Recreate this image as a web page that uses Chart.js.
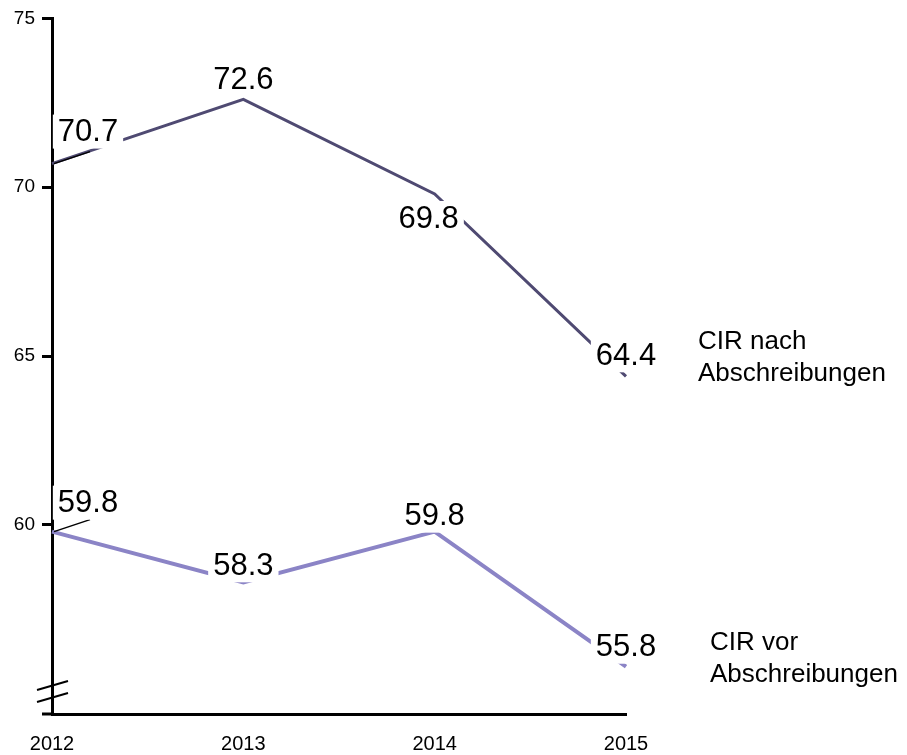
<!DOCTYPE html>
<html>
<head>
<meta charset="utf-8">
<script src="https://cdn.jsdelivr.net/npm/chart.js@4"></script>
<style>
  body { margin: 0; background: #fff; }
  #wrap { width: 907px; height: 755px; }
</style>
</head>
<body>
<div id="wrap"><canvas id="cirChart"></canvas></div>
<script>
// Data
const years = ['2012', '2013', '2014', '2015'];
const cirNach = [70.7, 72.6, 69.8, 64.4];
const cirVor = [59.8, 58.3, 59.8, 55.8];
const yTicks = [60, 65, 70, 75];
const seriesNames = [['CIR nach', 'Abschreibungen'], ['CIR vor', 'Abschreibungen']];

// Label placement (pixels relative to the point)
const labelOffsets = [
    [[36, -32], [0, -20], [-6, 24], [0, -21]],
    [[36, -29], [0, -17], [0, -16], [0, -20]]
];
const nameOffsets = [[72, -35], [84, -24]];

const ctx = document.getElementById('cirChart').getContext('2d');

// White-boxed value labels, series names, axis break
const decorPlugin = {
    id: 'decor',
    afterDatasetsDraw(chart) {
        const c = chart.ctx;
        const xs = chart.scales.x;
        const ys = chart.scales.y;
        c.save();

        chart.data.datasets.forEach((ds, di) => {
            const meta = chart.getDatasetMeta(di);
            meta.data.forEach((pt, i) => {
                const [dx, dy] = labelOffsets[di][i];
                const tx = pt.x + dx;
                const ty = pt.y + dy;
                const txt = ds.data[i].toFixed(1);
                c.font = '31px "Liberation Sans", Arial, sans-serif';
                const w = c.measureText(txt).width;

                // leader line for the first point
                if (i === 0) {
                    c.strokeStyle = '#000';
                    c.lineWidth = 1.5;
                    c.beginPath();
                    c.moveTo(pt.x + 2, pt.y);
                    c.lineTo(pt.x + 38, pt.y - 12);
                    c.stroke();
                }

                c.fillStyle = '#fff';
                c.fillRect(tx - w / 2 - 5, ty - 17, w + 10, 34);
                c.fillStyle = '#000';
                c.textAlign = 'center';
                c.textBaseline = 'middle';
                c.fillText(txt, tx, ty + 1);
            });

            // series name next to the last point
            const last = meta.data[meta.data.length - 1];
            const [nx, ny] = nameOffsets[di];
            c.font = '26px "Liberation Sans", Arial, sans-serif';
            c.fillStyle = '#000';
            c.textAlign = 'left';
            c.textBaseline = 'middle';
            seriesNames[di].forEach((line, li) => {
                c.fillText(line, last.x + nx, last.y + ny + li * 32);
            });
        });

        // x axis extends a little left of the y axis
        c.strokeStyle = '#000';
        c.lineWidth = 3;
        c.beginPath();
        c.moveTo(xs.left - 10, ys.bottom);
        c.lineTo(xs.left, ys.bottom);
        c.stroke();

        // axis break marks
        c.lineWidth = 2;
        const bx = xs.left;
        const by = ys.bottom - 21;
        [0, 12].forEach(off => {
            c.beginPath();
            c.moveTo(bx - 15, by - 3 + off);
            c.lineTo(bx + 16, by - 12 + off);
            c.stroke();
        });

        c.restore();
    }
};

new Chart(ctx, {
    type: 'line',
    data: {
        labels: years,
        datasets: [
            {
                label: 'CIR nach Abschreibungen',
                data: cirNach,
                borderColor: '#4f4a72',
                borderWidth: 3,
                pointRadius: 0,
                tension: 0
            },
            {
                label: 'CIR vor Abschreibungen',
                data: cirVor,
                borderColor: '#8b84c6',
                borderWidth: 4,
                pointRadius: 0,
                tension: 0
            }
        ]
    },
    options: {
        responsive: true,
        maintainAspectRatio: false,
        animation: false,
        layout: { padding: { top: 16, right: 281, left: 0, bottom: 0 } },
        scales: {
            x: {
                offset: false,
                grid: { display: false, drawTicks: false },
                border: { display: true, color: '#000', width: 3 },
                ticks: {
                    color: '#000',
                    padding: 18,
                    font: { family: '"Liberation Sans", Arial, sans-serif', size: 20 }
                },
                afterFit: (scale) => { scale.height = 41; }
            },
            y: {
                min: 54.4,
                max: 75,
                afterBuildTicks: (scale) => {
                    scale.ticks = yTicks.map(v => ({ value: v }));
                },
                grid: {
                    drawOnChartArea: false,
                    drawTicks: true,
                    tickLength: 10,
                    tickWidth: 3,
                    tickColor: '#000'
                },
                border: { display: true, color: '#000', width: 3 },
                ticks: {
                    color: '#000',
                    padding: 7,
                    font: { family: '"Liberation Sans", Arial, sans-serif', size: 19 }
                },
                afterFit: (scale) => { scale.width = 52; }
            }
        },
        plugins: {
            legend: { display: false },
            tooltip: { enabled: false }
        }
    },
    plugins: [decorPlugin]
});
</script>
</body>
</html>
